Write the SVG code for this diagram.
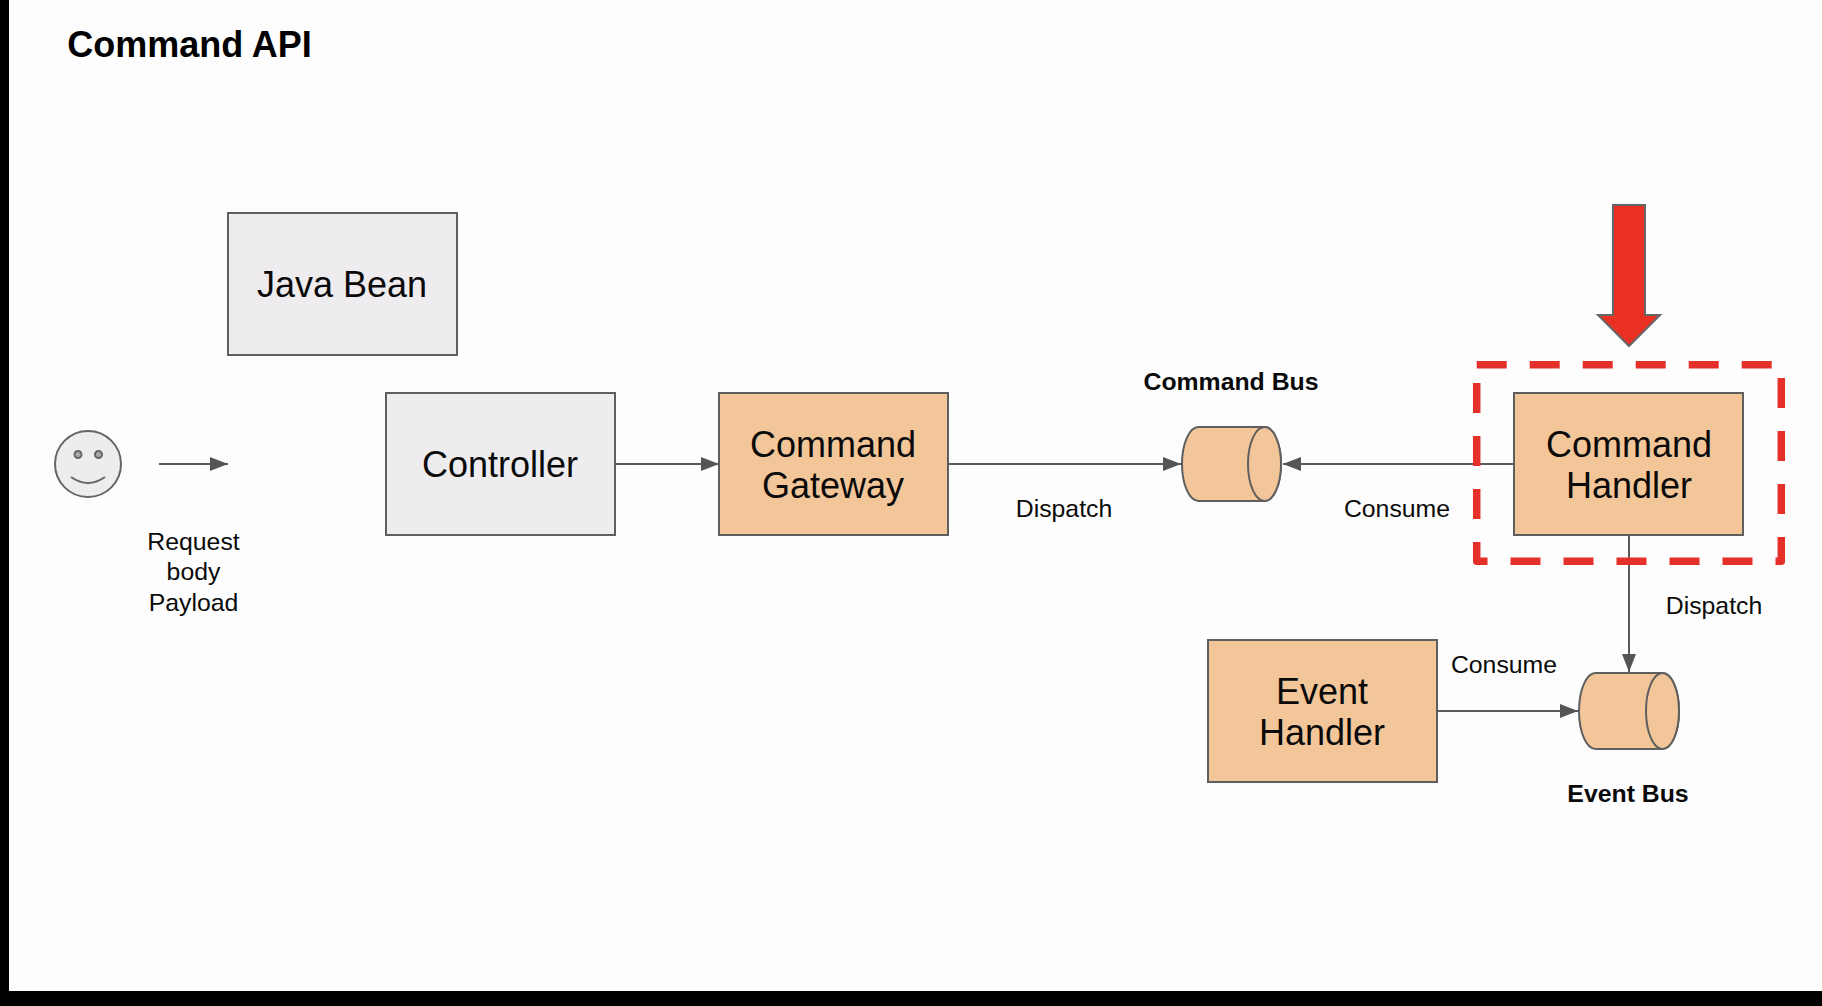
<svg xmlns="http://www.w3.org/2000/svg" width="1822" height="1006" viewBox="0 0 1822 1006">
<style>
text{font-family:"Liberation Sans",Arial,sans-serif;fill:#0a0a0a;text-anchor:middle}
.box{stroke:#5f5f5f;stroke-width:2}
.g{fill:#eeecef}
.o{fill:#f3c699}
.t{font-size:36px}
.l{font-size:24.800px}
.b{font-size:24.800px;font-weight:700}
.c{fill:none;stroke:#5a5a5a;stroke-width:2}
.cy{fill:#f3c699;stroke:#5f5f5f;stroke-width:2}
</style>
<defs>
<marker id="a" markerUnits="userSpaceOnUse" markerWidth="18" markerHeight="14" refX="18" refY="7" orient="auto"><path d="M0 0L18 7L0 14Z" fill="#555"/></marker>
</defs>
<rect width="1822" height="1006" fill="#fdfdfd"/>
<rect width="9" height="1006" fill="#000"/>
<rect y="991" width="1822" height="15" fill="#000"/>
<g transform="translate(0 1)">
<text x="189.500" y="56" style="font-size:36px;font-weight:700;fill:#000">Command API</text>
<g id="user">
<circle cx="88" cy="463" r="33" fill="#eeecef" stroke="#666" stroke-width="2"/>
<circle cx="78" cy="453.500" r="3.500" fill="#aaa" stroke="#666" stroke-width="2"/>
<circle cx="98.500" cy="453.500" r="3.500" fill="#aaa" stroke="#666" stroke-width="2"/>
<path d="M71 476Q88 488 105 476" fill="none" stroke="#666" stroke-width="2"/>
</g>
<g id="request-label"><text class="l" x="193.500" y="549">Request</text><text class="l" x="193.500" y="579">body</text><text class="l" x="193.500" y="610">Payload</text></g>
<g id="connectors">
<path class="c" d="M159 463H228" marker-end="url(#a)"/>
<path class="c" d="M615 463H719" marker-end="url(#a)"/>
<path class="c" d="M948 463H1181" marker-end="url(#a)"/>
<path class="c" d="M1514 463H1283" marker-end="url(#a)"/>
<path class="c" d="M1629 534V671" marker-end="url(#a)"/>
<path class="c" d="M1437 710H1578" marker-end="url(#a)"/>
</g>
<g id="java-bean"><rect class="box g" x="228" y="212" width="229" height="142"/><text class="t" x="342" y="296">Java Bean</text></g>
<g id="controller"><rect class="box g" x="386" y="392" width="229" height="142"/><text class="t" x="500" y="476">Controller</text></g>
<g id="command-gateway"><rect class="box o" x="719" y="392" width="229" height="142"/><text class="t" x="833" y="456">Command</text><text class="t" x="833" y="497">Gateway</text></g>
<g id="command-bus"><path class="cy" d="M1198.500 426H1264.500A16.500 37 0 0 1 1264.500 500H1198.500A16.500 37 0 0 1 1198.500 426Z"/><ellipse class="cy" cx="1264.500" cy="463" rx="16.500" ry="37"/><text class="b" x="1231" y="389">Command Bus</text></g>
<g id="command-handler"><rect class="box o" x="1514" y="392" width="229" height="142"/><text class="t" x="1629" y="456">Command</text><text class="t" x="1629" y="497">Handler</text></g>
<g id="event-handler"><rect class="box o" x="1208" y="639" width="229" height="142"/><text class="t" x="1322" y="703">Event</text><text class="t" x="1322" y="744">Handler</text></g>
<g id="event-bus"><path class="cy" d="M1595.500 672H1662.500A16.500 38 0 0 1 1662.500 748H1595.500A16.500 38 0 0 1 1595.500 672Z"/><ellipse class="cy" cx="1662.500" cy="710" rx="16.500" ry="38"/><text class="b" x="1628" y="801">Event Bus</text></g>
<g id="edge-labels">
<text class="l" x="1064" y="516">Dispatch</text>
<text class="l" x="1397" y="516">Consume</text>
<text class="l" x="1714" y="613">Dispatch</text>
<text class="l" x="1504" y="672">Consume</text>
</g>
</g>
<path id="highlight" d="M1476.700 364.700H1781.300V561.300H1476.700Z" fill="none" stroke="#e5302a" stroke-width="7.500" stroke-linejoin="round" stroke-dasharray="30 23"/>
<path id="red-arrow" d="M1613 205H1645V315H1660L1629 346L1598 315H1613Z" fill="#ea3023" stroke="#666" stroke-width="2"/>
</svg>
